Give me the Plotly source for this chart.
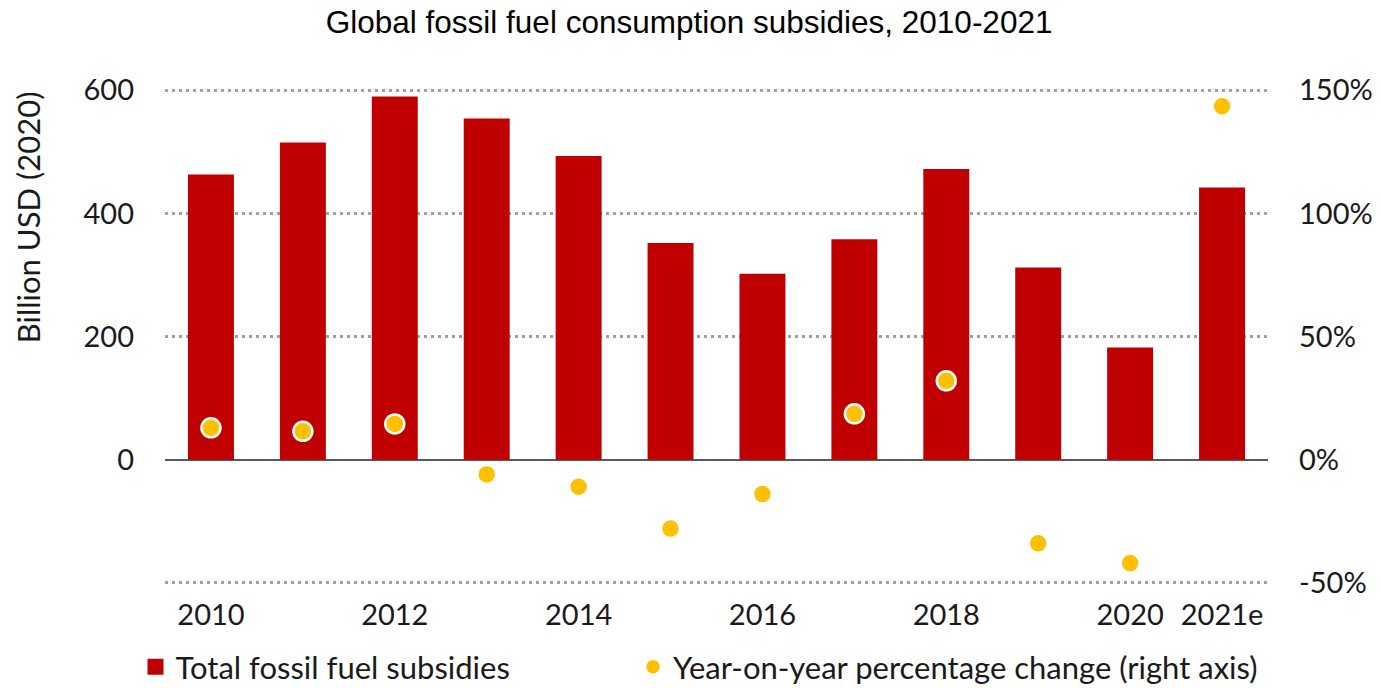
import plotly.graph_objects as go

categories = ["2010", "2011", "2012", "2013", "2014", "2015", "2016", "2017", "2018", "2019", "2020", "2021e"]
subsidies = [463, 515, 590, 554, 493, 352, 302, 358, 472, 312, 182, 442]
yoy_change = [12.9, 11.5, 14.5, -6, -11, -28, -14, 18.6, 32, -34, -42, 143.5]
x_tick_labels = ["2010", "2012", "2014", "2016", "2018", "2020", "2021e"]
left_ticks = [-200, 0, 200, 400, 600]
left_tick_text = ["", "0", "200", "400", "600"]
right_ticks = [-50, 0, 50, 100, 150]
right_tick_text = ["-50%", "0%", "50%", "100%", "150%"]

FONT = "Lato"
RED = "#C00000"
GOLD = "#FFC000"

fig = go.Figure()
fig.add_trace(go.Bar(
    x=categories, y=subsidies, name="Total fossil fuel subsidies",
    marker=dict(color=RED, line=dict(width=0)), yaxis="y", showlegend=False,
))
# legend entry with a larger square symbol
fig.add_trace(go.Scatter(
    x=[None], y=[None], name="Total fossil fuel subsidies", mode="markers",
    marker=dict(color=RED, symbol="square", size=18), yaxis="y", legend="legend",
))
fig.add_trace(go.Scatter(
    x=categories, y=yoy_change, name="Year-on-year percentage change (right axis)",
    mode="markers", yaxis="y2", legend="legend2",
    marker=dict(color=GOLD, size=19, line=dict(color="white", width=2.5)),
))

legend_common = dict(orientation="h", xref="container", yref="container",
                     xanchor="left", yanchor="middle", y=21 / 688,
                     font=dict(family=FONT, size=31, color="#1a1a1a"),
                     itemwidth=30, bgcolor="rgba(0,0,0,0)")

fig.update_layout(
    width=1381, height=688,
    margin=dict(l=165, r=113, t=89, b=104, autoexpand=False),
    paper_bgcolor="white", plot_bgcolor="white",
    bargap=0.5,
    font=dict(family=FONT, size=29, color="#1a1a1a"),
    title=dict(text="Global fossil fuel consumption subsidies, 2010-2021",
               font=dict(family="Liberation Sans", size=31.5, color="black"),
               x=0.499, xanchor="center", y=0.968, yanchor="middle"),
    xaxis=dict(type="category", range=[-0.5, 11.5], tickmode="array",
               tickvals=x_tick_labels, ticktext=x_tick_labels,
               showgrid=False, showline=False, ticks="", ticklabelstandoff=11,
               tickfont=dict(family=FONT, size=29)),
    yaxis=dict(range=[-202, 602], tickmode="array", tickvals=left_ticks,
               ticktext=left_tick_text, showgrid=True, gridcolor="#A0A0A0",
               griddash="3px,4px", gridwidth=2.5, zeroline=True, zerolinecolor="#595959",
               zerolinewidth=2, showline=False, ticks="", ticklabelstandoff=30,
               tickfont=dict(family=FONT, size=29)),
    yaxis2=dict(range=[-50.5, 150.5], overlaying="y", side="right", tickmode="array",
                tickvals=right_ticks, ticktext=right_tick_text, showgrid=False,
                zeroline=False, showline=False, ticks="", ticklabelstandoff=30,
                tickfont=dict(family=FONT, size=29)),
    legend=dict(x=135.5 / 1381, **legend_common),
    legend2=dict(x=633 / 1381, **legend_common),
    showlegend=True,
    annotations=[dict(text="Billion USD (2020)", textangle=-90, xref="paper", yref="paper",
                      x=0, y=(582.3 - 218) / 491.6, xanchor="center", yanchor="middle", xshift=-137,
                      showarrow=False, font=dict(family=FONT, size=31, color="#1a1a1a"))],
)

fig.write_html("out.html")
